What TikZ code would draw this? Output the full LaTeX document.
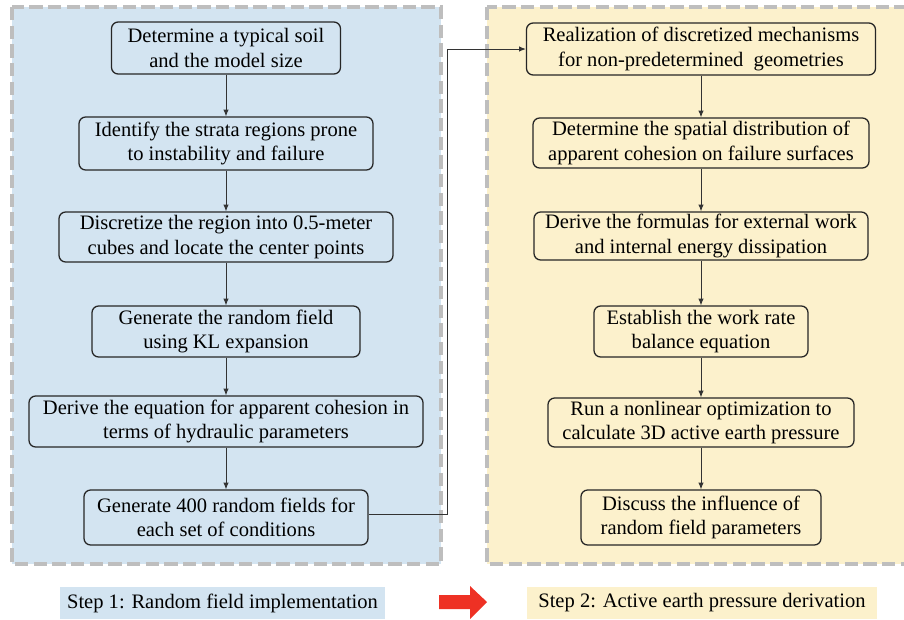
\documentclass[tikz,border=0pt]{standalone}
\usepackage{fontspec}
\setmainfont{Liberation Serif}
\usetikzlibrary{arrows.meta}
\definecolor{panelblue}{HTML}{D3E4F1}
\definecolor{panelyellow}{HTML}{FCF1CC}
\definecolor{dashgray}{HTML}{BEBEBE}
\definecolor{arrowred}{HTML}{EE3124}
\tikzset{
  procbox/.style={draw=black!85, line width=0.95pt, rounded corners=5pt, align=center,
    inner sep=0pt, font=\fontsize{15.4pt}{18.3pt}\selectfont},
  panel/.style={draw=dashgray, line width=2.4pt, dash pattern=on 10pt off 4pt},
  flow/.style={draw=black!80, line width=0.7pt, -{Latex[length=5pt,width=4pt]}},
  steplabel/.style={inner sep=0pt, font=\fontsize{15.4pt}{18.3pt}\selectfont}
}
\begin{document}
\begin{tikzpicture}[x=0.75pt,y=-0.75pt]
\useasboundingbox (0,0) rectangle (904,619);
\clip (0,0) rectangle (904,619);
% panels
\fill[panelblue] (12,7) rectangle (441,564);
\draw[panel] (12,7) rectangle (441,564);
\fill[panelyellow] (487,7) rectangle (915,564);
\draw[panel] (487,7) rectangle (915,564);
% left column
\node[procbox, minimum width=229*0.75pt, minimum height=52*0.75pt] (L1) at (226,48) {Determine a typical soil\\and the model size};
\node[procbox, minimum width=294*0.75pt, minimum height=53*0.75pt] (L2) at (226,143.5) {Identify the strata regions prone\\to instability and failure};
\node[procbox, minimum width=334*0.75pt, minimum height=50*0.75pt] (L3) at (226,237) {Discretize the region into 0.5-meter\\cubes and locate the center points};
\node[procbox, minimum width=268*0.75pt, minimum height=51*0.75pt] (L4) at (226,331.5) {Generate the random field\\using KL expansion};
\node[procbox, minimum width=394*0.75pt, minimum height=51*0.75pt] (L5) at (226,421.5) {Derive the equation for apparent cohesion in\\terms of hydraulic parameters};
\node[procbox, minimum width=284*0.75pt, minimum height=55*0.75pt] (L6) at (226,517.5) {Generate 400 random fields for\\each set of conditions};
% right column
\node[procbox, minimum width=349*0.75pt, minimum height=52*0.75pt] (R1) at (701,49) {Realization of discretized mechanisms\\for non-predetermined\ \ geometries};
\node[procbox, minimum width=336*0.75pt, minimum height=50*0.75pt] (R2) at (701,143) {Determine the spatial distribution of\\apparent cohesion on failure surfaces};
\node[procbox, minimum width=334*0.75pt, minimum height=48*0.75pt] (R3) at (701,236) {Derive the formulas for external work\\and internal energy dissipation};
\node[procbox, minimum width=214*0.75pt, minimum height=51*0.75pt] (R4) at (701,331.5) {Establish the work rate\\balance equation};
\node[procbox, minimum width=306*0.75pt, minimum height=49*0.75pt] (R5) at (701,422.5) {Run a nonlinear optimization to\\calculate 3D active earth pressure};
\node[procbox, minimum width=240*0.75pt, minimum height=55*0.75pt] (R6) at (701,517.5) {Discuss the influence of\\random field parameters};
% vertical connectors
\foreach \a/\b in {L1/L2,L2/L3,L3/L4,L4/L5,L5/L6,R1/R2,R2/R3,R3/R4,R4/R5,R5/R6}
  \draw[flow] (\a.south) -- (\b.north);
% cross connector
\coordinate (bend) at (447,0);
\draw[flow] ([yshift=2.6pt]L6.east) -| (bend |- R1.west) -- (R1.west);
% step labels
\fill[panelblue] (60,587) rectangle (385,619);
\node[steplabel] (S1) at (222.5,603) {Step 1: Random field implementation};
\fill[panelyellow] (527,587) rectangle (877,619);
\node[steplabel] (S2) at (702,603) {Step 2: Active earth pressure derivation};
% red arrow
\fill[arrowred] (439,595) -- (470,595) -- (470,586) -- (487,602) -- (470,619) -- (470,609) -- (439,609) -- cycle;
\end{tikzpicture}
\end{document}
